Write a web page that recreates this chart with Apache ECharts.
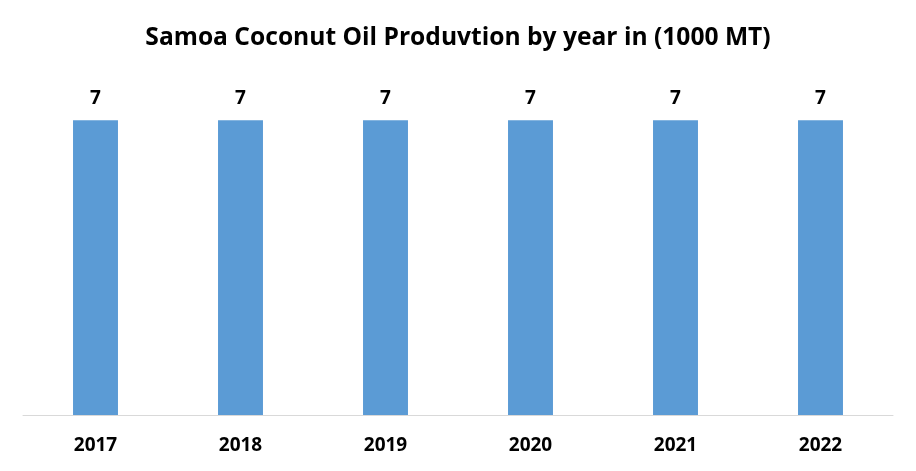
<!DOCTYPE html>
<html><head><meta charset="utf-8">
<script src="https://cdn.jsdelivr.net/npm/echarts@6/dist/echarts.min.js"></script>
<style>html,body{margin:0;padding:0;background:#fff}#c{width:916px;height:471px}</style>
</head><body><div id="c"></div>
<script>
const categories = ['2017','2018','2019','2020','2021','2022'];
const values = [7,7,7,7,7,7];
const titleText = 'Samoa Coconut Oil Produvtion by year in (1000 MT)';
const chart = echarts.init(document.getElementById('c'));
chart.setOption({
  animation:false,
  backgroundColor:'#fff',
  title:{text:titleText,left:'center',top:20,textStyle:{fontFamily:'Open Sans',fontWeight:'bold',fontSize:24.6,color:'#000'}},
  grid:{left:23,right:23,top:78,bottom:56},
  xAxis:{type:'category',data:categories,axisTick:{show:false},
    axisLine:{lineStyle:{color:'#d9d9d9',width:1}},
    axisLabel:{margin:21,fontFamily:'Open Sans',fontWeight:'bold',fontSize:19,color:'#000'}},
  yAxis:{type:'value',min:0,max:8,show:false,splitLine:{show:false}},
  series:[{type:'bar',data:values,barWidth:'31%',itemStyle:{color:'#5b9bd5'},
    label:{show:true,position:'top',distance:12,fontFamily:'Open Sans',fontWeight:'bold',fontSize:19,color:'#000'}}]
});
</script></body></html>
